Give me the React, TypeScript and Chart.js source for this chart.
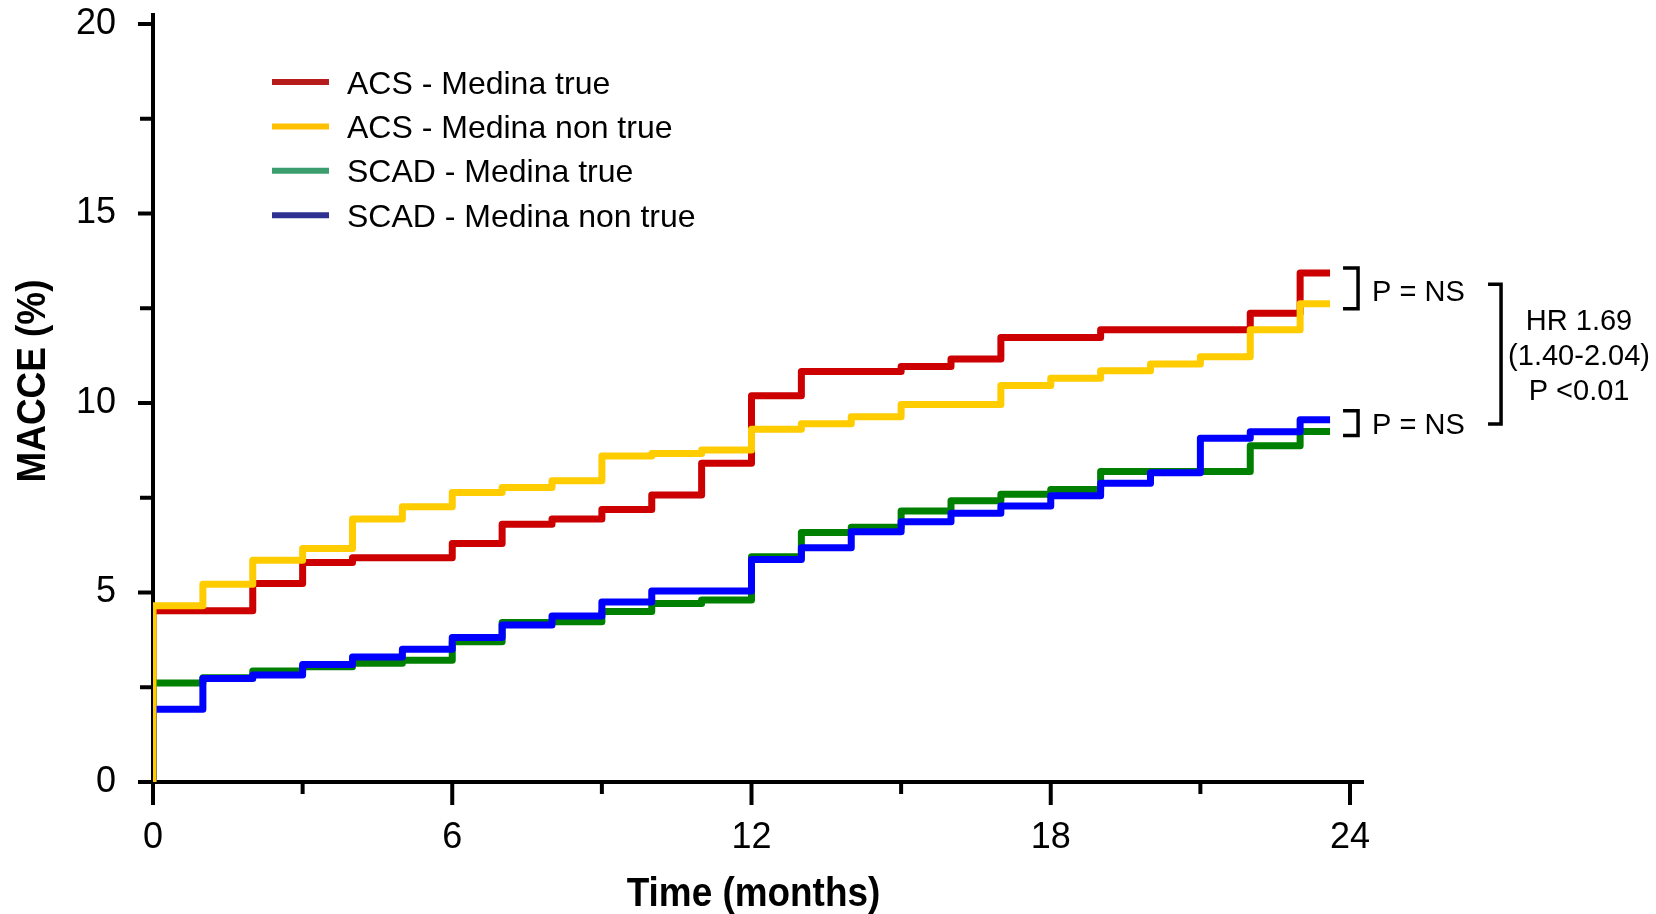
import React, { useEffect, useRef } from "react";
import { Chart, registerables } from "chart.js";

Chart.register(...registerables);

// ---------- data ----------
const seriesNames = [
  "ACS - Medina true",
  "ACS - Medina non true",
  "SCAD - Medina true",
  "SCAD - Medina non true",
];
const lineColors = ["#CC0000", "#FFCC00", "#008000", "#0000FF"];
const legendColors = ["#B71C1C", "#FFC000", "#3C9E6E", "#2E3192"];
// Chart.js draws lower "order" on top
const drawOrder = [3, 0, 2, 1];

const stepMonths = [0, 1, 2, 3, 4, 5, 6, 7, 8, 9, 10, 11, 12, 13, 14, 15, 16, 17, 18, 19, 20, 21, 22, 23];
const endMonth = 23.6;

const acsMedinaTrue = [4.52, 4.52, 5.24, 5.79, 5.92, 5.92, 6.29, 6.8, 6.94, 7.19, 7.57, 8.41, 10.19, 10.83, 10.83, 10.96, 11.16, 11.73, 11.73, 11.93, 11.93, 11.93, 12.37, 13.43];
const acsMedinaNonTrue = [4.65, 5.22, 5.85, 6.16, 6.94, 7.26, 7.64, 7.77, 7.95, 8.6, 8.67, 8.76, 9.31, 9.45, 9.64, 9.96, 9.96, 10.46, 10.65, 10.85, 11.03, 11.22, 11.93, 12.62];
const scadMedinaTrue = [2.61, 2.75, 2.93, 3.04, 3.13, 3.21, 3.7, 4.21, 4.23, 4.5, 4.71, 4.8, 5.94, 6.58, 6.72, 7.15, 7.42, 7.59, 7.72, 8.19, 8.19, 8.19, 8.87, 9.25];
const scadMedinaNonTrue = [1.92, 2.73, 2.82, 3.1, 3.3, 3.5, 3.81, 4.14, 4.38, 4.75, 5.04, 5.04, 5.87, 6.18, 6.6, 6.87, 7.09, 7.28, 7.55, 7.88, 8.16, 9.07, 9.24, 9.56];

const xTickValues = [0, 3, 6, 9, 12, 15, 18, 21, 24];
const xTickLabels = ["0", "", "6", "", "12", "", "18", "", "24"];
const yTickValues = [0, 2.5, 5, 7.5, 10, 12.5, 15, 17.5, 20];
const yTickLabels = ["0", "", "5", "", "10", "", "15", "", "20"];

const xAxisTitle = "Time (months)";
const yAxisTitle = "MACCE (%)";
const pairLabel = "P = NS";
const hrLines = ["HR 1.69", "(1.40-2.04)", "P <0.01"];

const FONT = "'Liberation Sans', Arial, Helvetica, sans-serif";

const decorPlugin = {
  id: "decor",
  beforeDatasetsDraw(chart: any) {
    const { ctx, scales } = chart;
    const x = scales.x;
    const y = scales.y;
    const x0 = x.getPixelForValue(0);
    const y0 = y.getPixelForValue(0);
    ctx.save();
    ctx.strokeStyle = "#000";
    ctx.lineWidth = 4;
    ctx.lineCap = "butt";
    // y axis
    ctx.beginPath();
    ctx.moveTo(x0, y.getPixelForValue(20) - 11);
    ctx.lineTo(x0, y0 + 2);
    ctx.stroke();
    // x axis
    ctx.beginPath();
    ctx.moveTo(x0 - 15, y0);
    ctx.lineTo(x.getPixelForValue(24) + 14, y0);
    ctx.stroke();
    // y ticks
    y.ticks.forEach((t: any) => {
      const py = y.getPixelForValue(t.value);
      const major = t.value % 5 === 0;
      ctx.beginPath();
      ctx.moveTo(x0 - (major ? 15 : 13), py);
      ctx.lineTo(x0, py);
      ctx.stroke();
    });
    // x ticks
    x.ticks.forEach((t: any) => {
      const px = x.getPixelForValue(t.value);
      const major = t.value % 6 === 0;
      ctx.beginPath();
      ctx.moveTo(px, y0);
      ctx.lineTo(px, y0 + (major ? 23 : 12));
      ctx.stroke();
    });
    ctx.restore();
  },
  afterDraw(chart: any) {
    const { ctx, scales, chartArea } = chart;
    const x = scales.x;
    const y = scales.y;
    ctx.save();
    ctx.fillStyle = "#000";

    // axis titles
    ctx.font = `bold 41px ${FONT}`;
    ctx.textAlign = "center";
    ctx.textBaseline = "alphabetic";
    ctx.save();
    ctx.translate((chartArea.left + chartArea.right) / 2 + 2, 906);
    ctx.scale(0.9, 1);
    ctx.fillText(xAxisTitle, 0, 0);
    ctx.restore();
    ctx.save();
    ctx.translate(45, (chartArea.top + chartArea.bottom) / 2 - 22);
    ctx.rotate(-Math.PI / 2);
    ctx.scale(0.9, 1);
    ctx.fillText(yAxisTitle, 0, 0);
    ctx.restore();

    // legend
    const legX = chartArea.left + 119;
    const legY = 82;
    const legStep = 44.4;
    ctx.font = `32px ${FONT}`;
    ctx.textAlign = "left";
    seriesNames.forEach((name, i) => {
      const cy = legY + i * legStep;
      ctx.strokeStyle = legendColors[i];
      ctx.lineWidth = 6;
      ctx.lineCap = "butt";
      ctx.beginPath();
      ctx.moveTo(legX, cy);
      ctx.lineTo(legX + 57, cy);
      ctx.stroke();
      ctx.fillStyle = "#000";
      ctx.fillText(name, legX + 75, cy + 11.5);
    });

    // annotations
    const last = stepMonths.length - 1;
    const xEnd = x.getPixelForValue(endMonth);
    const redY = y.getPixelForValue(acsMedinaTrue[last]);
    const yelY = y.getPixelForValue(acsMedinaNonTrue[last]);
    const grnY = y.getPixelForValue(scadMedinaTrue[last]);
    const bluY = y.getPixelForValue(scadMedinaNonTrue[last]);
    const b1Top = Math.min(redY, yelY) - 5;
    const b1Bot = Math.max(redY, yelY) + 5;
    const b2Top = Math.min(grnY, bluY) - 9;
    const b2Bot = Math.max(grnY, bluY) + 4;
    ctx.strokeStyle = "#000";
    ctx.lineWidth = 3.5;
    ctx.lineJoin = "miter";
    const bracket = (xl: number, xr: number, top: number, bot: number) => {
      ctx.beginPath();
      ctx.moveTo(xl, top);
      ctx.lineTo(xr, top);
      ctx.lineTo(xr, bot);
      ctx.lineTo(xl, bot);
      ctx.stroke();
    };
    bracket(xEnd + 13, xEnd + 28, b1Top, b1Bot);
    bracket(xEnd + 13, xEnd + 28, b2Top, b2Bot);
    ctx.font = `29px ${FONT}`;
    ctx.textAlign = "left";
    const m1 = (b1Top + b1Bot) / 2;
    const m2 = (b2Top + b2Bot) / 2;
    ctx.fillText(pairLabel, xEnd + 42, m1 + 2 + 10.4);
    ctx.fillText(pairLabel, xEnd + 42, m2 + 1 + 10.4);
    const bTop = m1 - 4;
    const bBot = m2 + 1;
    bracket(xEnd + 158, xEnd + 171, bTop, bBot);
    const bm = (bTop + bBot) / 2;
    ctx.textAlign = "center";
    hrLines.forEach((line, i) => {
      ctx.fillText(line, xEnd + 249, bm + (i - 1) * 35 + 10.4);
    });
    ctx.restore();
  },
};

export default function App() {
  const canvasRef = useRef<HTMLCanvasElement | null>(null);

  useEffect(() => {
    const canvas = canvasRef.current;
    if (!canvas) return;
    const seriesValues = [acsMedinaTrue, acsMedinaNonTrue, scadMedinaTrue, scadMedinaNonTrue];
    const datasets = seriesValues.map((vals, i) => ({
      label: seriesNames[i],
      data: [
        { x: 0, y: 0 },
        ...stepMonths.map((m, k) => ({ x: m, y: vals[k] })),
        { x: endMonth, y: vals[vals.length - 1] },
      ],
      borderColor: lineColors[i],
      backgroundColor: lineColors[i],
      borderWidth: 7,
      stepped: true,
      pointRadius: 0,
      pointHoverRadius: 0,
      fill: false,
      tension: 0,
      order: drawOrder[i],
      borderJoinStyle: "round" as const,
      borderCapStyle: "butt" as const,
    }));

    const chart = new Chart(canvas, {
      type: "line",
      data: { datasets },
      options: {
        animation: false,
        responsive: false,
        devicePixelRatio: 1,
        events: [],
        layout: { padding: { left: 0, top: 24, right: 306, bottom: 0 } },
        plugins: {
          legend: { display: false },
          tooltip: { enabled: false },
          title: { display: false },
        },
        scales: {
          x: {
            type: "linear",
            min: 0,
            max: 24,
            afterBuildTicks: (s: any) => {
              s.ticks = xTickValues.map((v) => ({ value: v }));
            },
            afterFit: (s: any) => {
              s.height = 132;
            },
            grid: { display: false, drawTicks: false },
            border: { display: false },
            ticks: {
              autoSkip: false,
              maxRotation: 0,
              padding: 34,
              color: "#000",
              font: { family: FONT, size: 36 },
              callback: (v: any) => xTickLabels[xTickValues.indexOf(Number(v))] ?? "",
            },
          },
          y: {
            type: "linear",
            min: 0,
            max: 20,
            afterBuildTicks: (s: any) => {
              s.ticks = yTickValues.map((v) => ({ value: v }));
            },
            afterFit: (s: any) => {
              s.width = 153;
            },
            grid: {
              display: true,
              drawOnChartArea: false,
              drawTicks: true,
              tickLength: 37,
              color: "rgba(0,0,0,0)",
              tickColor: "rgba(0,0,0,0)",
            },
            border: { display: false },
            ticks: {
              autoSkip: false,
              padding: 0,
              color: "#000",
              font: { family: FONT, size: 36 },
              callback: (v: any) => yTickLabels[yTickValues.indexOf(Number(v))] ?? "",
            },
          },
        },
      },
      plugins: [decorPlugin],
    });
    return () => chart.destroy();
  }, []);

  return (
    <div style={{ position: "fixed", left: 0, top: 0, width: 1656, height: 914, background: "#fff" }}>
      <canvas ref={canvasRef} width={1656} height={914} style={{ display: "block", width: 1656, height: 914 }} />
    </div>
  );
}
